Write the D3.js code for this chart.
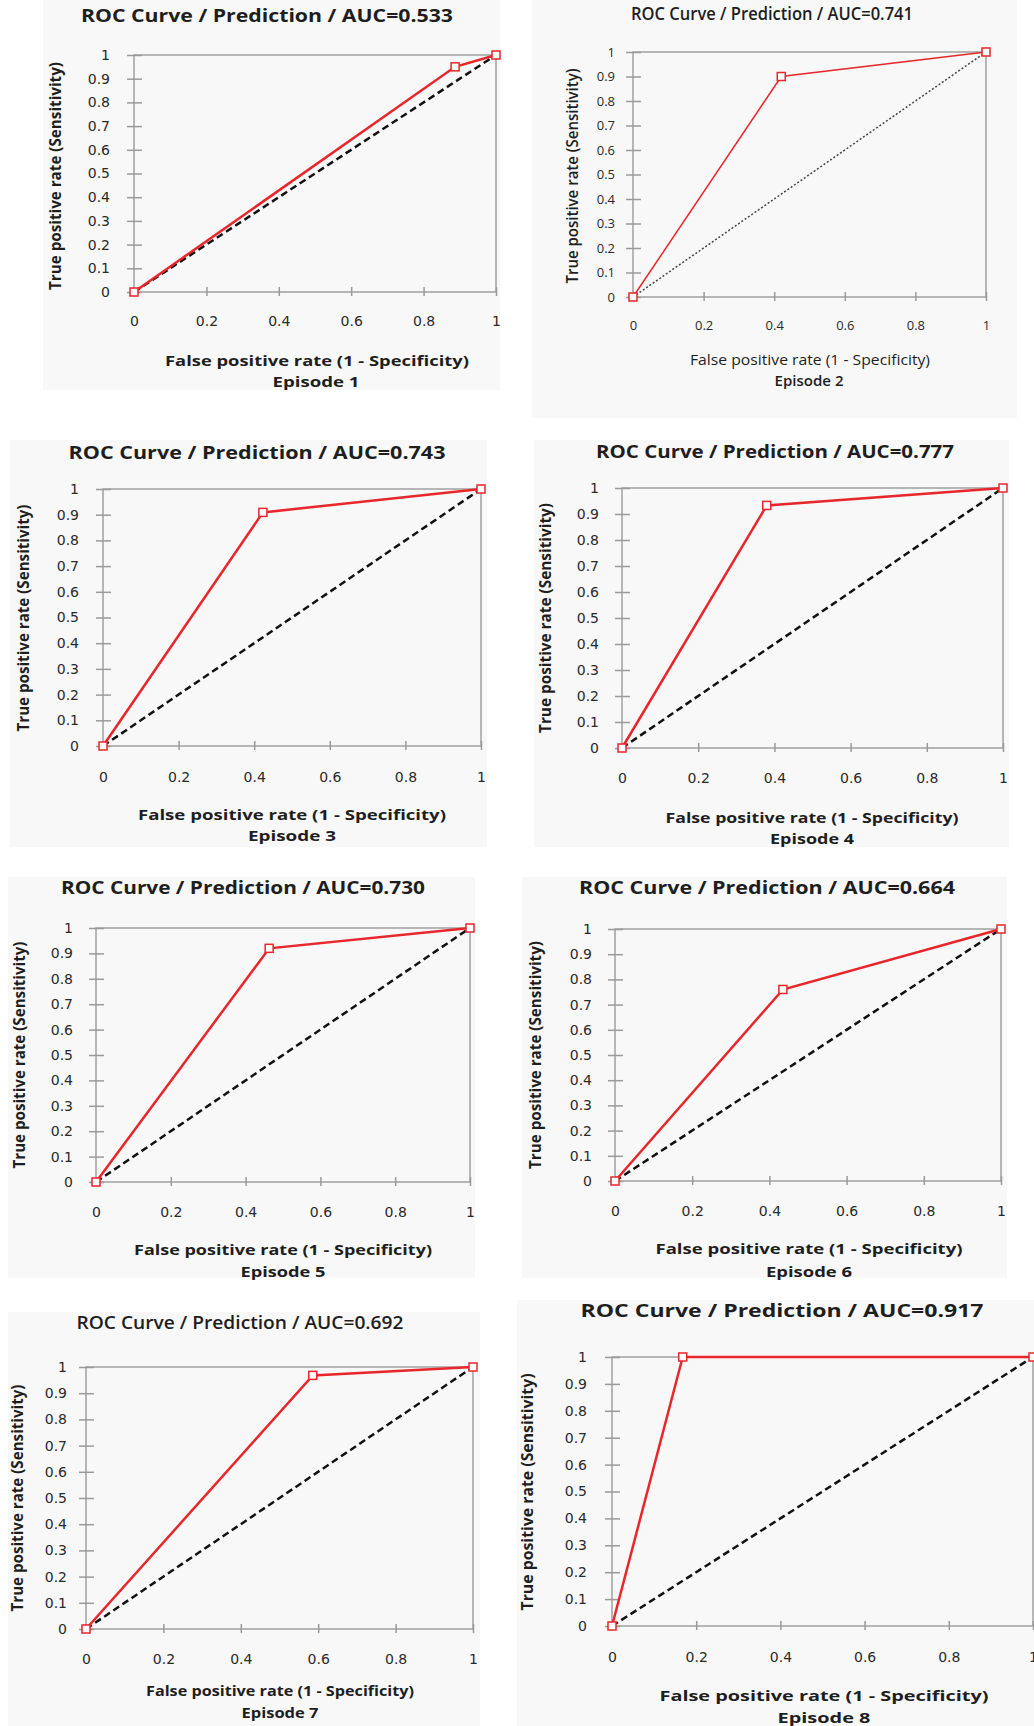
<!DOCTYPE html>
<html>
<head>
<meta charset="utf-8">
<script src="https://cdn.jsdelivr.net/npm/d3@7"></script>
<style>
  body { margin: 0; background: #ffffff; }
  .tick text { font-family: "DejaVu Sans", Verdana, sans-serif; font-size: 14px; fill: #2a2a2a; }
  .tick line { stroke: #9a9a9a; stroke-width: 1.5; }
  .domain { display: none; }
  .title { font-family: "Open Sans", sans-serif; fill: #1e1e1e; }
  .label { font-family: "Open Sans", sans-serif; fill: #1e1e1e; }
</style>
</head>
<body>
<div id="charts"></div>
<script>

// one entry per episode
var episodes = [1, 2, 3, 4, 5, 6, 7, 8];
var aucValues = ["0.533", "0.741", "0.743", "0.777", "0.730", "0.664", "0.692", "0.917"];

// roc points: false positive rate and true positive rate
var fprValues = [
  [0, 0.887, 1],
  [0, 0.42, 1],
  [0, 0.423, 1],
  [0, 0.38, 1],
  [0, 0.463, 1],
  [0, 0.435, 1],
  [0, 0.586, 1],
  [0, 0.168, 1]
];
var tprValues = [
  [0, 0.95, 1],
  [0, 0.90, 1],
  [0, 0.909, 1],
  [0, 0.933, 1],
  [0, 0.92, 1],
  [0, 0.76, 1],
  [0, 0.968, 1],
  [0, 1, 1]
];

// tick labels
var xTicks = [0, 0.2, 0.4, 0.6, 0.8, 1];
var yTicks = [0, 0.1, 0.2, 0.3, 0.4, 0.5, 0.6, 0.7, 0.8, 0.9, 1];

var xTitle = "False positive rate (1 - Specificity)";
var yTitle = "True positive rate (Sensitivity)";

// where every panel sits on the page (taken from the scanned figure)
var layout = [
  {bg: [43, 0, 500, 390], plot: [134, 55, 496, 292], title: [267, 15, 372], tickRight: 110, tickY: 321,
   xLab: [317, 360, 304], ep: [316, 381, 87], yLab: [55, 176, 228], thin: false, titleWeight: 700},
  {bg: [532, 0, 1017, 418], plot: [633, 52, 986, 297], title: [772, 13, 282], tickRight: 615, tickY: 325,
   xLab: [810, 359, 240], ep: [809, 380, 69], yLab: [572, 176, 215], thin: true, titleWeight: 600},
  {bg: [10, 440, 487, 847], plot: [103, 489, 481, 746], title: [257, 452, 377], tickRight: 79, tickY: 777,
   xLab: [292, 814, 308], ep: [292, 835, 88], yLab: [23, 618, 227], thin: false, titleWeight: 700},
  {bg: [534, 440, 1009, 847], plot: [622, 488, 1003, 748], title: [775, 451, 358], tickRight: 599, tickY: 778,
   xLab: [812, 817, 293], ep: [812, 838, 84], yLab: [545, 618, 230], thin: false, titleWeight: 700},
  {bg: [8, 877, 475, 1278], plot: [96, 928, 470, 1182], title: [243, 887, 364], tickRight: 73, tickY: 1212,
   xLab: [283, 1249, 298], ep: [283, 1271, 85], yLab: [19, 1055, 227], thin: false, titleWeight: 700},
  {bg: [522, 877, 1007, 1278], plot: [615, 929, 1001, 1181], title: [767, 887, 376], tickRight: 592, tickY: 1211,
   xLab: [809, 1248, 307], ep: [809, 1271, 86], yLab: [535, 1055, 228], thin: false, titleWeight: 700},
  {bg: [8, 1312, 480, 1726], plot: [86, 1367, 473, 1629], title: [240, 1322, 327], tickRight: 67, tickY: 1659,
   xLab: [280, 1690, 268], ep: [280, 1712, 77], yLab: [17, 1498, 227], thin: false, titleWeight: 600},
  {bg: [517, 1300, 1034, 1726], plot: [612, 1357, 1033, 1626], title: [782, 1310, 403], tickRight: 587, tickY: 1657,
   xLab: [824, 1695, 329], ep: [824, 1717, 93], yLab: [527, 1492, 237], thin: false, titleWeight: 700}
];

var svg = d3.select("#charts")
  .append("svg")
    .attr("width", 1034)
    .attr("height", 1726);

episodes.forEach(function (ep, i) {
  roc_panel(i);
});

function roc_panel(i) {

  var L = layout[i];
  var x0 = L.plot[0], y0 = L.plot[1], x1 = L.plot[2], y1 = L.plot[3];

  // light panel background
  svg.append("rect")
    .attr("x", L.bg[0])
    .attr("y", L.bg[1])
    .attr("width", L.bg[2] - L.bg[0])
    .attr("height", L.bg[3] - L.bg[1])
    .attr("fill", "#f8f8f8");

  var x_scale = d3.scaleLinear().domain([0, 1]).range([x0, x1]);
  var y_scale = d3.scaleLinear().domain([0, 1]).range([y1, y0]);

  // plot area frame
  svg.append("rect")
    .attr("x", x0)
    .attr("y", y0)
    .attr("width", x1 - x0)
    .attr("height", y1 - y0)
    .attr("fill", "none")
    .attr("stroke", "#a0a0a0")
    .attr("stroke-width", 1.5);

  // y axis with ticks crossing the axis line
  var yAxis = svg.append("g")
    .attr("transform", "translate(" + x0 + ",0)")
    .call(d3.axisLeft(y_scale)
      .tickValues(yTicks)
      .tickSize(7)
      .tickPadding(x0 - L.tickRight - 7)
      .tickFormat(d3.format("")));
  yAxis.selectAll(".tick line").attr("x1", 8);
  if (L.thin) yAxis.selectAll(".tick text").style("font-family", "'Open Sans', sans-serif").style("font-size", "13px");

  // x axis
  var xAxis = svg.append("g")
    .attr("transform", "translate(0," + y1 + ")")
    .call(d3.axisBottom(x_scale)
      .tickValues(xTicks)
      .tickSize(4)
      .tickFormat(d3.format("")));
  xAxis.selectAll(".tick line").attr("y1", -5);
  xAxis.selectAll(".tick text")
    .attr("y", L.tickY - y1)
    .attr("dy", "0.35em");
  if (L.thin) xAxis.selectAll(".tick text").style("font-family", "'Open Sans', sans-serif").style("font-size", "13px");

  // chance diagonal
  svg.append("path")
    .datum([0, 1])
    .attr("d", d3.line()
      .x(function (d) { return x_scale(d); })
      .y(function (d) { return y_scale(d); }))
    .attr("fill", "none")
    .attr("stroke", L.thin ? "#444" : "#111")
    .attr("stroke-width", L.thin ? 1.5 : 2.5)
    .attr("stroke-dasharray", L.thin ? "2,2" : "7,4");

  // roc curve
  var pts = fprValues[i].map(function (f, k) { return [f, tprValues[i][k]]; });

  svg.append("path")
    .datum(pts)
    .attr("d", d3.line()
      .x(function (d) { return x_scale(d[0]); })
      .y(function (d) { return y_scale(d[1]); }))
    .attr("fill", "none")
    .attr("stroke", "#e8262b")
    .attr("stroke-width", L.thin ? 1.5 : 2.5);

  svg.selectAll(null)
    .data(pts)
    .enter()
    .append("rect")
      .attr("x", function (d) { return x_scale(d[0]) - 4; })
      .attr("y", function (d) { return y_scale(d[1]) - 4; })
      .attr("width", 8)
      .attr("height", 8)
      .attr("fill", "#ffffff")
      .attr("stroke", "#e8262b")
      .attr("stroke-width", 1.5);

  // title
  svg.append("text")
    .attr("class", "title")
    .attr("x", L.title[0])
    .attr("y", L.title[1])
    .attr("text-anchor", "middle")
    .attr("dominant-baseline", "central")
    .style("font-size", "18px")
    .style("font-weight", L.titleWeight)
    .attr("textLength", L.title[2])
    .attr("lengthAdjust", "spacingAndGlyphs")
    .text(L.thin ? "ROC Curve  / Prediction  / AUC=" + aucValues[i] : "ROC Curve / Prediction / AUC=" + aucValues[i]);

  // x axis title and episode caption
  svg.append("text")
    .attr("class", "label")
    .attr("x", L.xLab[0])
    .attr("y", L.xLab[1])
    .attr("text-anchor", "middle")
    .attr("dominant-baseline", "central")
    .style("font-size", "15px")
    .style("font-weight", L.thin ? 400 : 700)
    .attr("textLength", L.xLab[2])
    .attr("lengthAdjust", "spacingAndGlyphs")
    .text(xTitle);

  svg.append("text")
    .attr("class", "label")
    .attr("x", L.ep[0])
    .attr("y", L.ep[1])
    .attr("text-anchor", "middle")
    .attr("dominant-baseline", "central")
    .style("font-size", "15px")
    .style("font-weight", L.thin ? 600 : 700)
    .attr("textLength", L.ep[2])
    .attr("lengthAdjust", "spacingAndGlyphs")
    .text("Episode " + episodes[i]);

  // y axis title
  svg.append("text")
    .attr("class", "label")
    .attr("transform", "translate(" + L.yLab[0] + "," + L.yLab[1] + ") rotate(-90)")
    .attr("text-anchor", "middle")
    .attr("dominant-baseline", "central")
    .style("font-size", "16px")
    .style("font-weight", L.thin ? 600 : 700)
    .attr("textLength", L.yLab[2])
    .attr("lengthAdjust", "spacingAndGlyphs")
    .text(yTitle);
}

</script>
</body>
</html>
